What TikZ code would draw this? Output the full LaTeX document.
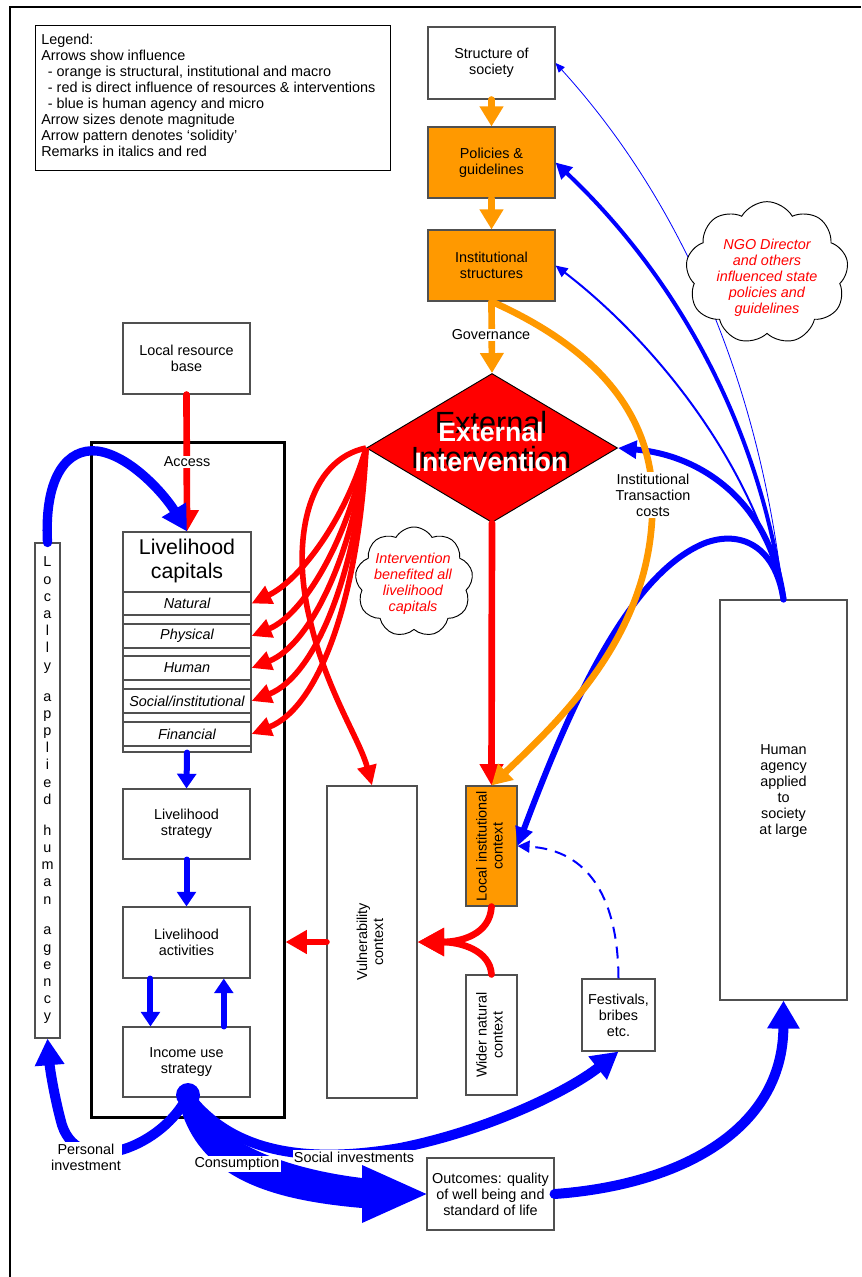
\documentclass[tikz,border=0pt]{standalone}
\usepackage{fontspec}
\setmainfont{Liberation Sans}
\usepackage{graphicx}
\usetikzlibrary{arrows.meta,shapes.geometric,shapes.symbols}
\definecolor{orng}{HTML}{FF9900}
\definecolor{redc}{HTML}{FF0000}
\definecolor{bluec}{HTML}{0000FF}
\definecolor{boxline}{HTML}{505050}

\begin{document}
\begin{tikzpicture}[x=0.75pt,y=-0.75pt,
  txt/.style={font=\fontsize{10.8}{12}\selectfont, align=center, inner sep=1pt},
  itxt/.style={font=\fontsize{10.8}{12}\selectfont\itshape, align=center, inner sep=1pt},
  box/.style={txt, draw=boxline, line width=0.8pt, fill=white, inner sep=0pt},
  obox/.style={box, fill=orng},
  lbl/.style={txt, fill=white, inner sep=1pt},
  oarrow/.style={draw=orng, line width=5pt, line cap=round, -{Triangle[width=17pt,length=15pt]}},
  ocurve/.style={draw=orng, line width=5pt, -{Triangle[width=16pt,length=15pt]}},
  rarrow/.style={draw=redc, line width=5pt, line cap=round, -{Triangle[width=17pt,length=16pt]}},
  rfan/.style={draw=redc, line width=4.2pt, -{Triangle[width=14pt,length=15pt]}},
  rvul/.style={draw=redc, line width=5pt, line cap=round, -{Triangle[width=20pt,length=20pt]}},
  barrow/.style={draw=bluec, line width=4.5pt, line cap=round, -{Triangle[width=14pt,length=11pt]}},
  bthick/.style={draw=bluec, line width=7pt, line cap=round, -{Triangle[width=20pt,length=19pt]}},
  bext/.style={draw=bluec, line width=4.5pt, line cap=round, -{Triangle[width=13pt,length=14pt]}},
  bpol/.style={draw=bluec, line width=3pt, line cap=round, -{Triangle[width=12pt,length=12pt]}},
  bmed/.style={draw=bluec, line width=1.5pt, -{Triangle[width=8pt,length=9pt]}},
  bthin/.style={draw=bluec, line width=0.6pt, -{Triangle[width=6pt,length=7pt]}},
  bdash/.style={draw=bluec, line width=1.5pt, dash pattern=on 9pt off 6pt, -{Triangle[width=9pt,length=9pt]}},
  bflow/.style={draw=bluec, line width=7.5pt, line cap=round, -{Triangle[width=21pt,length=20pt]}},
  puff/.style={cloud, draw=black, line width=0.7pt, fill=white, cloud puffs=9, cloud puff arc=120, inner sep=0pt}
]
\useasboundingbox (0,0) rectangle (861,1277);
\fill[white] (0,0) rectangle (861,1277);

% page frame
\draw[line width=0.8pt] (10,1277) -- (10,7) -- (861,7);

% legend
\node[draw=black, line width=0.8pt, minimum width=266.25pt, minimum height=108.75pt, anchor=north west, inner sep=0pt] (legend) at (35,25) {};
\node[txt, align=left, anchor=north west, inner sep=0pt] (legendtext) at (41,34)
  {Legend:\\Arrows show influence\\\hspace*{5pt}- orange is structural, institutional and macro\\\hspace*{5pt}- red is direct influence of resources \& interventions\\\hspace*{5pt}- blue is human agency and micro\\Arrow sizes denote magnitude\\Arrow pattern denotes ‘solidity’\\Remarks in italics and red};

% household frame
\node[draw=black, line width=2.25pt, minimum width=144.75pt, minimum height=506.25pt, inner sep=0pt] (big) at (187.5,779.5) {};

% structural column
\node[box, minimum width=95.25pt, minimum height=54pt] (soc) at (491.5,63) {Structure of\\society};
\node[obox, minimum width=95.25pt, minimum height=53.25pt] (pol) at (491.5,162.5) {Policies \&\\guidelines};
\node[obox, minimum width=95.25pt, minimum height=53.25pt] (inst) at (491.5,265.5) {Institutional\\structures};
\node[diamond, draw=black, line width=0.7pt, fill=redc, minimum width=188.25pt, minimum height=111.75pt, inner sep=0pt] (ext) at (492,448) {};

% household boxes
\node[box, minimum width=95.25pt, minimum height=53.25pt] (lrb) at (186.5,358.5) {Local resource\\base};
\node[box, minimum width=96pt, minimum height=165pt] (lcap) at (187,642) {};
\node[font=\fontsize{16}{17.5}\selectfont, align=center, inner sep=0pt] (lcaptitle) at (187,561) {Livelihood\\capitals};
\node[box, font=\fontsize{10.8}{12}\selectfont\itshape, minimum width=96pt, minimum height=17.25pt] (cnat) at (187,603.5) {Natural};
\node[box, font=\fontsize{10.8}{12}\selectfont\itshape, minimum width=96pt, minimum height=18pt] (cphy) at (187,636) {Physical};
\node[box, font=\fontsize{10.8}{12}\selectfont\itshape, minimum width=96pt, minimum height=18pt] (chum) at (187,668) {Human};
\node[box, font=\fontsize{10.8}{12}\selectfont\itshape, minimum width=96pt, minimum height=18pt] (csoc) at (187,701) {Social/institutional};
\node[box, font=\fontsize{10.8}{12}\selectfont\itshape, minimum width=96pt, minimum height=18pt] (cfin) at (187,734) {Financial};
\node[box, minimum width=95.25pt, minimum height=52.5pt] (lstrat) at (186.5,824) {Livelihood\\strategy};
\node[box, minimum width=95.25pt, minimum height=53.25pt] (lact) at (186.5,942.5) {Livelihood\\activities};
\node[box, minimum width=95.25pt, minimum height=52.5pt] (inc) at (186.5,1062) {Income use\\strategy};

\node[box, minimum width=18.75pt, minimum height=371.25pt, font=\fontsize{10.8}{12.9}\selectfont] (locally) at (47.5,790.5)
  {L\\o\\c\\a\\l\\l\\y\\[10.3pt]a\\p\\p\\l\\i\\e\\d\\[10.3pt]h\\u\\m\\a\\n\\[10.3pt]a\\g\\e\\n\\c\\y};

% context boxes
\node[box, minimum width=67.5pt, minimum height=234pt] (vul) at (372,942)
  {\rotatebox{90}{\begin{tabular}{@{}c@{}}Vulnerability\\context\end{tabular}}};
\node[obox, minimum width=38.25pt, minimum height=90pt] (lic) at (491.5,846)
  {\rotatebox{90}{\begin{tabular}{@{}c@{}}Local institutional\\context\end{tabular}}};
\node[box, minimum width=38.25pt, minimum height=90pt] (wnc) at (491.5,1035)
  {\rotatebox{90}{\begin{tabular}{@{}c@{}}Wider natural\\context\end{tabular}}};
\node[box, minimum width=54.75pt, minimum height=54pt] (fest) at (618.5,1015) {Festivals,\\bribes\\etc.};
\node[box, minimum width=95.25pt, minimum height=300pt] (hum) at (783.5,800) {};
\node[txt] (humtxt) at (783.5,791) {Human\\agency\\applied\\to\\society\\at large};
\node[box, minimum width=95.25pt, minimum height=54pt] (out) at (490.5,1194) {Outcomes: quality\\of well being and\\standard of life};
\node[circle, fill=bluec, minimum size=18pt, inner sep=0pt] (blob) at (188,1095) {};

% structural influence
\draw[oarrow] (soc.south) -- (pol.north);
\draw[oarrow] (pol.south) -- (inst.north);
\draw[oarrow] (inst.south) -- (ext.north);

% resources and intervention
\draw[rarrow] (lrb.south) -- (lcap.north);
\draw[rarrow] (ext.south) -- (lic.north);
\draw[rfan] (ext.west) .. controls (345,520) and (300,580) .. (cnat.east);
\draw[rfan] (ext.west) .. controls (350,535) and (305,614) .. (cphy.east);
\draw[rfan] (ext.west) .. controls (353,555) and (310,645) .. (chum.east);
\draw[rfan] (ext.west) .. controls (356,575) and (315,676) .. (csoc.east);
\draw[rfan] (ext.west) .. controls (359,595) and (320,707) .. (cfin.east);
\draw[rfan] (ext.west) .. controls (308,460) and (290,540) .. (310,620) .. controls (326,690) and (360,740) .. (vul.north);
\draw[rvul] (lic.south) .. controls (490,935) and (460,942) .. (vul.east);
\draw[rvul] (wnc.north) .. controls (490,950) and (460,942) .. (vul.east);
\draw[rarrow] (vul.west) -- (vul.west -| big.east);

% household flows
\draw[barrow] (lcap.south) -- (lstrat.north);
\draw[barrow] (lstrat.south) -- (lact.north);
\draw[barrow] ([xshift=21pt]lact.south west) -- ([xshift=21pt]inc.north west);
\draw[barrow] ([xshift=76pt]inc.north west) -- ([xshift=76pt]lact.south west);
\draw[bthick] (locally.north) .. controls (44,475) and (68,448) .. (97,451) .. controls (130,455) and (165,495) .. (lcap.north);

% agency applied to society
\draw[bthin] (hum.north) .. controls (760,380) and (680,200) .. (soc.east);
\draw[bmed] (hum.north) .. controls (750,450) and (640,330) .. (inst.east);
\draw[bpol] (hum.north) .. controls (760,430) and (680,280) .. (pol.east);
\draw[bext] (hum.north) .. controls (770,500) and (700,455) .. (ext.east);
\draw[bext] (hum.north) .. controls (775,545) and (740,530) .. (705,543) .. controls (625,575) and (565,720) .. (lic.east);
\draw[bdash] (fest.north) .. controls (618,900) and (590,850) .. (lic.east);

% transaction costs
\draw[ocurve] (inst.south) .. controls (600,350) and (660,420) .. (652,520) .. controls (645,640) and (560,720) .. (lic.north);

% income use
\fill[bluec] (198,1098) .. controls (215,1140) and (280,1168) .. (362,1178) -- (362,1165) -- (out.west)
  -- (362,1223) -- (362,1208) .. controls (270,1200) and (195,1178) .. (178,1098) -- cycle;
\draw[bflow] (blob.center) .. controls (165,1145) and (80,1180) .. (62,1125) .. controls (55,1100) and (50,1070) .. (locally.south);
\draw[bflow] (blob.center) .. controls (230,1150) and (300,1165) .. (400,1148) .. controls (490,1130) and (570,1090) .. (fest.south);
\draw[bflow, -{Triangle[width=23pt,length=21pt]}] (out.east) .. controls (680,1185) and (783,1130) .. (hum.south);

% labels on connectors
\node[lbl] (govlbl) at (491,335) {Governance};
\node[lbl] (acclbl) at (187,462) {Access};
\node[lbl] (tclbl) at (653,495) {Institutional\\Transaction\\costs};
\node[lbl] (pilbl) at (86,1157) {Personal\\investment};
\node[lbl] (conlbl) at (237,1164) {Consumption};
\node[lbl] (silbl) at (354,1157) {Social investments};

% diamond caption: dark large lettering with the white bold caption over it
\node[font=\fontsize{23}{26}\selectfont, align=center, inner sep=0pt] (extshadow) at (491,440) {External\\Intervention};
\node[font=\fontsize{20}{22.5}\selectfont\bfseries, text=white, align=center, inner sep=0pt] (extlabel) at (491,447) {External\\Intervention};

% remarks
\node[puff, aspect=1.14, minimum width=122pt, minimum height=107pt] (ngo) at (767,273) {};
\node[itxt, text=redc] (ngotxt) at (767,278) {NGO Director\\and others\\influenced state\\policies and\\guidelines};
\node[puff, aspect=1.07, minimum width=88.5pt, minimum height=82.5pt] (icloud) at (414,582) {};
\node[itxt, text=redc] (icloudtxt) at (413,584) {Intervention\\benefited all\\livelihood\\capitals};
\end{tikzpicture}
\end{document}
